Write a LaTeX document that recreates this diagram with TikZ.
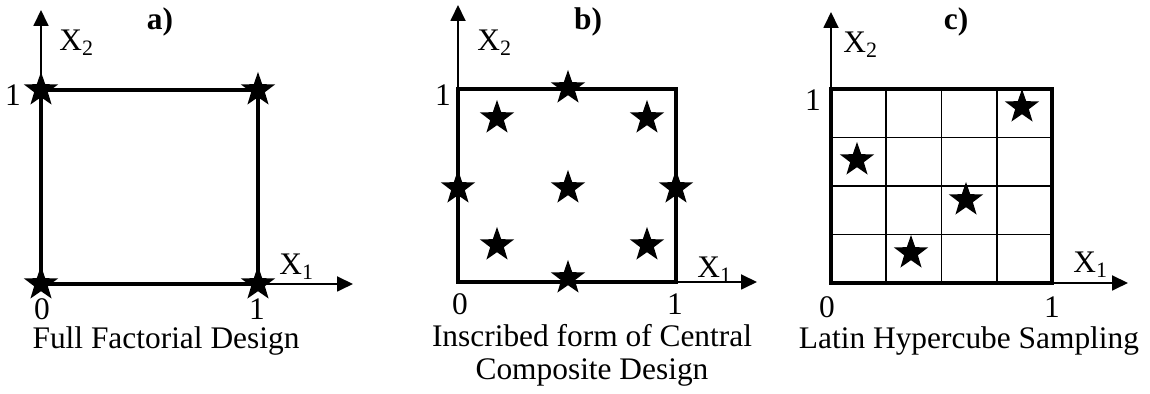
\documentclass[tikz,border=0pt]{standalone}
\usepackage{fontspec}
\setmainfont{Liberation Serif}
\usetikzlibrary{arrows.meta,shapes.geometric,calc}
\tikzset{
  doe axis/.style={
    -{Triangle[length=8pt,width=7.5pt]},
    line width=0.9pt,
    draw=black,
  },
  doe frame/.style={
    draw=black,
    line width=1.6pt,
  },
  doe grid/.style={
    draw=black,
    line width=0.8pt,
  },
  doe star/.style={
    star, star points=5, star point ratio=2.5,
    minimum size=18pt, inner sep=0pt,
    fill=black, draw=none,
  },
  doe text/.style={
    inner sep=0pt,
    font=\fontsize{15.7}{16.5}\selectfont,
  },
  doe tag/.style={
    doe text,
    font=\fontsize{15.7}{16.5}\selectfont\bfseries,
  },
}

\begin{document}
\begin{tikzpicture}[x=0.5pt,y=0.5pt]
  \useasboundingbox (0,0) rectangle (1150,394);

  % a) full factorial
  \coordinate (oa) at (41,110);
  \coordinate (ya) at (41,384);
  \coordinate (xa) at (353,110);
  \coordinate (ta) at (258,304);
  \draw[doe axis] (oa) -- (ya);
  \draw[doe axis] (oa) -- (xa);
  \draw[doe frame] (oa) rectangle (ta);
  \node[doe star] (sa1) at (41,304) {};
  \node[doe star] (sa2) at (258,304) {};
  \node[doe star] (sa3) at (41,110) {};
  \node[doe star] (sa4) at (258,110) {};
  \node[doe tag] (taga) at (160,372) {a)};
  \node[doe text, anchor=west] (x2a) at (59,351) {X\textsubscript{2}};
  \node[doe text, anchor=west] (x1a) at (279,127) {X\textsubscript{1}};
  \node[doe text] (onea) at (13,299) {1};
  \node[doe text] (zeroa) at (42,85) {0};
  \node[doe text] (onexa) at (257,85) {1};
  \node[doe text] (titlea) at (166,53) {Full Factorial Design};

  % b) inscribed central composite
  \coordinate (ob) at (458,112);
  \coordinate (yb) at (458,389);
  \coordinate (xb) at (757,112);
  \coordinate (tb) at (676,305);
  \draw[doe axis] (ob) -- (yb);
  \draw[doe axis] (ob) -- (xb);
  \draw[doe frame] (ob) rectangle (tb);
  \node[doe star] (sb1) at (568,306) {};
  \node[doe star] (sb2) at (568,116) {};
  \node[doe star] (sb3) at (458,206) {};
  \node[doe star] (sb4) at (676,206) {};
  \node[doe star] (sb5) at (568,206) {};
  \node[doe star] (sb6) at (497,276) {};
  \node[doe star] (sb7) at (647,276) {};
  \node[doe star] (sb8) at (497,149) {};
  \node[doe star] (sb9) at (647,149) {};
  \node[doe tag] (tagb) at (588,372) {b)};
  \node[doe text, anchor=west] (x2b) at (477,351) {X\textsubscript{2}};
  \node[doe text, anchor=west] (x1b) at (697,124) {X\textsubscript{1}};
  \node[doe text] (oneb) at (443,299) {1};
  \node[doe text] (zerob) at (460,90) {0};
  \node[doe text] (onexb) at (675,90) {1};
  \node[doe text, align=center] (titleb) at (592,39)
    {Inscribed form of Central\\Composite Design};

  % c) latin hypercube
  \coordinate (oc) at (831,111);
  \coordinate (yc) at (831,382);
  \coordinate (xc) at (1128,111);
  \coordinate (tc) at (1052,305);
  \foreach \k in {1,2,3} {
    \draw[doe grid] ($(oc)!\k/4!(oc-|tc)$) -- ($(tc-|oc)!\k/4!(tc)$);
    \draw[doe grid] ($(oc)!\k/4!(tc-|oc)$) -- ($(oc-|tc)!\k/4!(tc)$);
  }
  \draw[doe axis] (oc) -- (yc);
  \draw[doe axis] (oc) -- (xc);
  \draw[doe frame, line width=2pt] (oc) rectangle (tc);
  \node[doe star] (sc1) at (1022,287) {};
  \node[doe star] (sc2) at (857,234) {};
  \node[doe star] (sc3) at (966,194) {};
  \node[doe star] (sc4) at (911,141) {};
  \node[doe tag] (tagc) at (956,372) {c)};
  \node[doe text, anchor=west] (x2c) at (843,349) {X\textsubscript{2}};
  \node[doe text, anchor=west] (x1c) at (1073,129) {X\textsubscript{1}};
  \node[doe text] (onec) at (813,294) {1};
  \node[doe text] (zeroc) at (827,87) {0};
  \node[doe text] (onexc) at (1052,87) {1};
  \node[doe text] (titlec) at (969,53) {Latin Hypercube Sampling};
\end{tikzpicture}
\end{document}
